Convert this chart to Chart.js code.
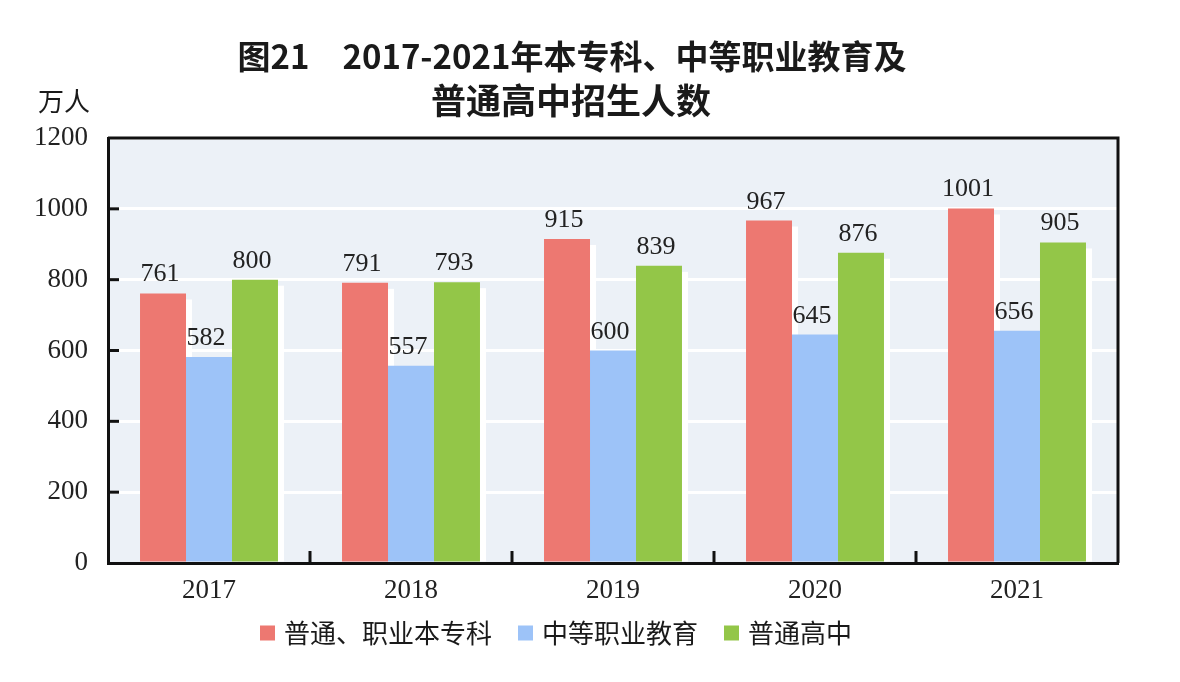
<!DOCTYPE html>
<html lang="zh">
<head>
  <meta charset="UTF-8">
  <title>2017-2021年本专科、中等职业教育及普通高中招生人数</title>
  <script src="https://cdn.jsdelivr.net/npm/chart.js"></script>
  <style>
    html, body { margin: 0; padding: 0; background: #fff; }
    #wrap { width: 1180px; height: 682px; }
  </style>
</head>
<body>
  <div id="wrap"><canvas id="chart" width="1180" height="682"></canvas></div>

  <script>
    // data
    const years = ['2017', '2018', '2019', '2020', '2021'];
    const higherEdu = [761, 791, 915, 967, 1001];
    const secondaryVoc = [582, 557, 600, 645, 656];
    const generalHigh = [800, 793, 839, 876, 905];
    const seriesNames = ['普通、职业本专科', '中等职业教育', '普通高中'];
    const titleLines = ['图21\u30002017-2021年本专科、中等职业教育及', '普通高中招生人数'];
    const unitLabel = '万人';

    const colors = ['#ED7871', '#9DC3F8', '#93C648'];
    const serif = '"Liberation Serif", "DejaVu Serif", serif';
    const cjk = '"Noto Sans CJK SC", "Noto Sans", sans-serif';

    // white offset strip on the right of each bar, painted under the bars
    const barShadow = {
      id: 'barShadow',
      beforeDatasetsDraw(chart) {
        const ctx = chart.ctx;
        ctx.save();
        ctx.fillStyle = '#ffffff';
        chart.data.datasets.forEach((ds, i) => {
          chart.getDatasetMeta(i).data.forEach(bar => {
            const right = bar.x + bar.width / 2;
            ctx.fillRect(right, bar.y + 6, 6, bar.base - bar.y - 6);
          });
        });
        ctx.restore();
      }
    };

    const plotFrame = {
      id: 'plotFrame',
      beforeDraw(chart) {
        const { ctx, chartArea: a } = chart;
        ctx.save();
        ctx.fillStyle = '#ECF1F7';
        ctx.fillRect(a.left, a.top, a.right - a.left, a.bottom - a.top);
        ctx.restore();
      },
      afterDatasetsDraw(chart) {
        const { ctx } = chart;
        // value labels
        ctx.save();
        ctx.fillStyle = '#222';
        ctx.font = '26px ' + serif;
        ctx.textAlign = 'center';
        ctx.textBaseline = 'alphabetic';
        chart.data.datasets.forEach((ds, i) => {
          chart.getDatasetMeta(i).data.forEach((bar, j) => {
            ctx.fillText(String(ds.data[j]), bar.x - 3, bar.y - 12);
          });
        });
        ctx.restore();
      },
      afterDraw(chart) {
        const { ctx, chartArea: a, scales } = chart;
        ctx.save();
        ctx.strokeStyle = '#111';
        ctx.lineWidth = 3;
        // top and right frame
        ctx.beginPath();
        ctx.moveTo(a.left, a.top);
        ctx.lineTo(a.right, a.top);
        ctx.lineTo(a.right, a.bottom);
        ctx.stroke();
        // y tick marks pointing inside
        scales.y.ticks.forEach(t => {
          if (t.value === 0 || t.value === 1200) return;
          const y = scales.y.getPixelForValue(t.value);
          ctx.beginPath();
          ctx.moveTo(a.left, y);
          ctx.lineTo(a.left + 11, y);
          ctx.stroke();
        });
        // x tick marks between categories
        for (let i = 1; i < years.length; i++) {
          const x = (scales.x.getPixelForValue(i - 1) + scales.x.getPixelForValue(i)) / 2;
          ctx.beginPath();
          ctx.moveTo(x, a.bottom);
          ctx.lineTo(x, a.bottom - 12);
          ctx.stroke();
        }
        ctx.restore();

        // title and unit
        ctx.save();
        ctx.fillStyle = '#1a1a1a';
        ctx.textBaseline = 'middle';
        ctx.textAlign = 'center';
        ctx.font = 'bold 33px ' + cjk;
        ctx.fillText(titleLines[0], 572, 56);
        ctx.font = 'bold 35px ' + cjk;
        ctx.fillText(titleLines[1], 571, 101);
        ctx.textAlign = 'left';
        ctx.font = '26px ' + cjk;
        ctx.fillText(unitLabel, 38, 101);
        ctx.restore();

        // legend
        ctx.save();
        ctx.font = '26px ' + cjk;
        ctx.textBaseline = 'middle';
        ctx.textAlign = 'left';
        const widths = seriesNames.map(n => ctx.measureText(n).width);
        const gap = 26, box = 15;
        const total = widths.reduce((s, w) => s + box + 9 + w, 0) + gap * (seriesNames.length - 1);
        let x = 556 - total / 2;
        const y = 633;
        seriesNames.forEach((n, i) => {
          ctx.fillStyle = colors[i];
          ctx.fillRect(x, y - box / 2, box, box);
          x += box + 9;
          ctx.fillStyle = '#1a1a1a';
          ctx.fillText(n, x, y);
          x += widths[i] + gap;
        });
        ctx.restore();
      }
    };

    new Chart(document.getElementById('chart'), {
      type: 'bar',
      data: {
        labels: years,
        datasets: [
          { label: seriesNames[0], data: higherEdu, backgroundColor: colors[0] },
          { label: seriesNames[1], data: secondaryVoc, backgroundColor: colors[1] },
          { label: seriesNames[2], data: generalHigh, backgroundColor: colors[2] }
        ]
      },
      options: {
        responsive: false,
        animation: false,
        layout: { padding: { top: 138, right: 62, bottom: 0, left: 0 } },
        datasets: { bar: { categoryPercentage: 0.683, barPercentage: 1, borderWidth: 0 } },
        plugins: {
          legend: { display: false },
          title: { display: false },
          tooltip: { enabled: false }
        },
        scales: {
          x: {
            afterFit(s) { s.height = 682 - 563; },
            grid: { display: false, drawTicks: false },
            border: { display: true, color: '#111', width: 3 },
            ticks: { color: '#222', font: { family: serif, size: 27 }, padding: 12 }
          },
          y: {
            min: 0,
            max: 1200,
            afterFit(s) { s.width = 108; },
            grid: { color: '#ffffff', lineWidth: 3, drawTicks: false },
            border: { display: true, color: '#111', width: 3 },
            ticks: {
              stepSize: 200,
              color: '#222',
              font: { family: serif, size: 27 },
              padding: 20,
              callback: v => String(v)
            }
          }
        }
      },
      plugins: [plotFrame, barShadow]
    });
  </script>
</body>
</html>
